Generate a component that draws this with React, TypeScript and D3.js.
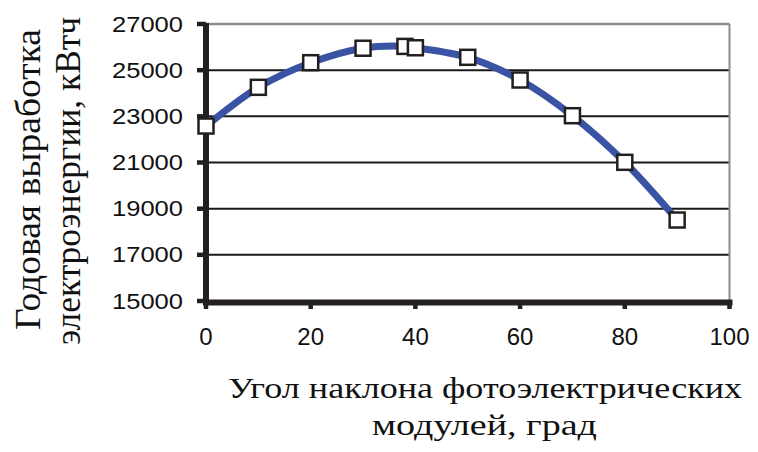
import React from "react";
import * as d3 from "d3";

const angles = [0, 10, 20, 30, 38, 40, 50, 60, 70, 80, 90];
const energy = [22580, 24257, 25323, 25950, 26030, 25970, 25557, 24574, 23027, 21008, 18508];
const xTicks = [0, 20, 40, 60, 80, 100];
const yTicks = [15000, 17000, 19000, 21000, 23000, 25000, 27000];
const xTitleLines = ["Угол наклона  фотоэлектрических", "модулей, град"];
const yTitleLines = ["Годовая выработка", "электроэнергии,  кВтч"];

const W = 758;
const H = 452;

export default function App() {
  const x = d3.scaleLinear().domain([0, 100]).range([206, 729.5]);
  const y = d3.scaleLinear().domain([15000, 27000]).range([301, 24]);
  const pts = angles.map((a, i) => [x(a), y(energy[i])] as [number, number]);
  const line = d3.line().curve(d3.curveCatmullRom.alpha(0.5))(pts) || "";
  const sans = "Liberation Sans";
  const serif = "Liberation Serif";
  return (
    <svg width={W} height={H} style={{ position: "absolute", left: 0, top: 0, background: "#fff" }}>
      <rect x={0} y={0} width={W} height={H} fill="#fff" />
      {/* gridlines */}
      {yTicks.filter((t) => t !== 15000 && t !== 27000).map((t) => (
        <line key={t} x1={x(0)} x2={x(100)} y1={y(t)} y2={y(t)} stroke="#1a1a1a" strokeWidth={2} />
      ))}
      <line x1={x(0)} x2={x(100)} y1={y(27000)} y2={y(27000)} stroke="#8c8c8c" strokeWidth={2.5} />
      <line x1={x(100)} x2={x(100)} y1={y(27000)} y2={y(15000)} stroke="#8c8c8c" strokeWidth={2} />
      {/* y axis */}
      <line x1={x(0)} x2={x(0)} y1={y(27000) - 1} y2={y(15000) + 4} stroke="#231f20" strokeWidth={6} />
      {yTicks.map((t) => (
        <line key={t} x1={197} x2={x(0)} y1={y(t)} y2={y(t)} stroke="#231f20" strokeWidth={4.5} />
      ))}
      {/* x axis */}
      <line x1={x(0) - 3} x2={x(100) + 3} y1={302.5} y2={302.5} stroke="#231f20" strokeWidth={6} />
      {xTicks.map((t) => (
        <line key={t} x1={x(t)} x2={x(t)} y1={302} y2={309} stroke="#231f20" strokeWidth={4.5} />
      ))}
      {/* tick labels */}
      {yTicks.map((t) => (
        <text key={t} x={183} y={y(t) + 7.5} textAnchor="end" fontFamily={sans} fontSize={22}
          textLength={71} lengthAdjust="spacingAndGlyphs" fill="#111">{t}</text>
      ))}
      {xTicks.map((t) => (
        <text key={t} x={x(t)} y={345} textAnchor="middle" fontFamily={sans} fontSize={24} fill="#111">{t}</text>
      ))}
      {/* series */}
      <path d={line} fill="none" stroke="#3a53a4" strokeWidth={7} strokeLinejoin="round" />
      {pts.map(([px, py], i) => (
        <rect key={i} x={px - 7.5} y={py - 7.5} width={15} height={15} fill="#fff" stroke="#231f20" strokeWidth={2.5} />
      ))}
      {/* x title */}
      <text x={228} y={398} fontFamily={serif} fontSize={30} textLength={514} lengthAdjust="spacingAndGlyphs" fill="#111">{xTitleLines[0]}</text>
      <text x={372} y={435} fontFamily={serif} fontSize={30} textLength={225} lengthAdjust="spacingAndGlyphs" fill="#111">{xTitleLines[1]}</text>
      {/* y title */}
      <text transform="translate(40,330) rotate(-90)" fontFamily={serif} fontSize={36} textLength={301} lengthAdjust="spacingAndGlyphs" fill="#111">{yTitleLines[0]}</text>
      <text transform="translate(80,345) rotate(-90)" fontFamily={serif} fontSize={36} textLength={328} lengthAdjust="spacingAndGlyphs" fill="#111">{yTitleLines[1]}</text>
    </svg>
  );
}
